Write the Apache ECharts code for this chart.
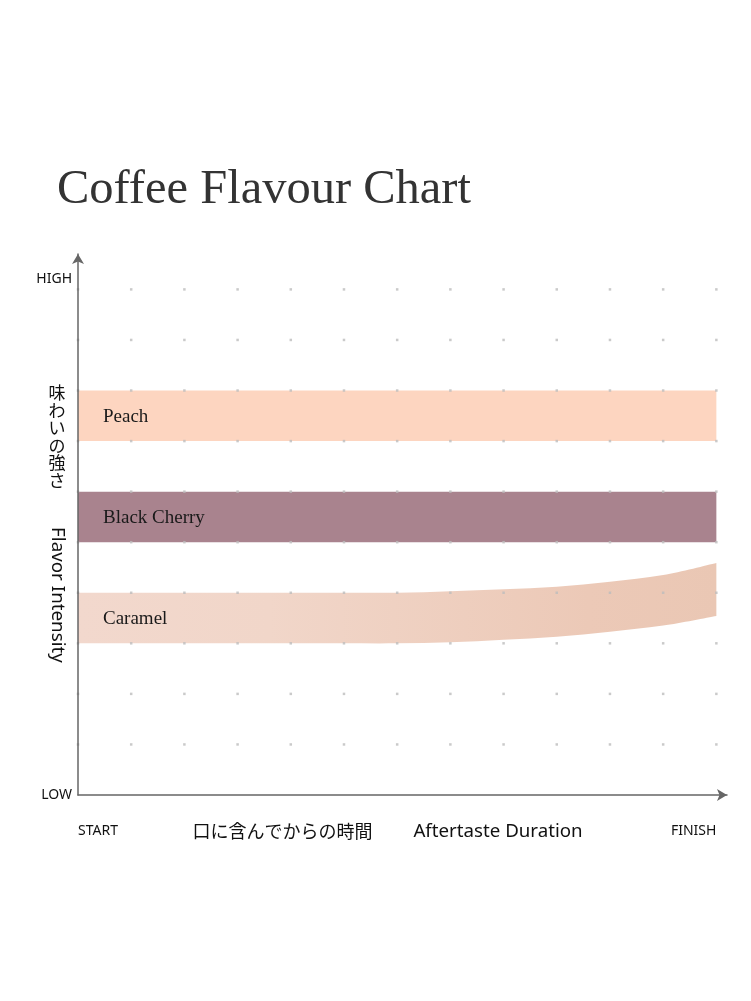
<!DOCTYPE html>
<html>
<head>
<meta charset="utf-8">
<script src="https://cdn.jsdelivr.net/npm/echarts@6/dist/echarts.min.js"></script>
<style>
html, body { margin: 0; padding: 0; background: #fff; }
#chart { width: 751px; height: 1001px; }
</style>
</head>
<body>
<div id="chart"></div>
<script>
// time steps along the aftertaste axis
var xSteps = [0, 1, 2, 3, 4, 5, 6, 7, 8, 9, 10, 11, 12];
var gridRows = [1, 2, 3, 4, 5, 6, 7, 8, 9, 10];

var bandNames = ['Peach', 'Black Cherry', 'Caramel'];
var peachLow = [7, 7, 7, 7, 7, 7, 7, 7, 7, 7, 7, 7, 7];
var peachHigh = [8, 8, 8, 8, 8, 8, 8, 8, 8, 8, 8, 8, 8];
var cherryLow = [5, 5, 5, 5, 5, 5, 5, 5, 5, 5, 5, 5, 5];
var cherryHigh = [6, 6, 6, 6, 6, 6, 6, 6, 6, 6, 6, 6, 6];
var caramelLow = [3, 3, 3, 3, 3, 3, 3, 3.02, 3.07, 3.13, 3.23, 3.35, 3.54];
var caramelHigh = [4, 4, 4, 4, 4, 4, 4, 4.03, 4.07, 4.12, 4.22, 4.35, 4.59];

var yLabelValues = [0, 10.2];
var yLabelTexts = ['LOW', 'HIGH'];
var xLabelValues = [0, 12];
var xLabelTexts = ['START', 'FINISH'];

var myChart = echarts.init(document.getElementById('chart'));

var caramelFill = new echarts.graphic.LinearGradient(0, 0, 1, 0, [
	{offset: 0, color: '#f2d8cd'},
	{offset: 0.3, color: '#f1d6c9'},
	{offset: 0.8, color: '#ecc9b7'},
	{offset: 1, color: '#eac7b4'}
]);

// smooth edge through points (cardinal spline), appended to a path string
function curveTo(pts) {
	var d = '';
	for (var i = 0; i < pts.length - 1; i++) {
		var p0 = pts[i - 1] || pts[i], p1 = pts[i], p2 = pts[i + 1], p3 = pts[i + 2] || p2;
		var c1 = [p1[0] + (p2[0] - p0[0]) / 6, p1[1] + (p2[1] - p0[1]) / 6];
		var c2 = [p2[0] - (p3[0] - p1[0]) / 6, p2[1] - (p3[1] - p1[1]) / 6];
		d += ' C' + c1[0] + ',' + c1[1] + ' ' + c2[0] + ',' + c2[1] + ' ' + p2[0] + ',' + p2[1];
	}
	return d;
}

function band(name, low, high, fill) {
	return {
		type: 'custom', name: name, z: 2, silent: true,
		encode: {x: 0, y: 1},
		data: xSteps.map(function(x, i) { return [x, high[i], low[i]]; }),
		renderItem: function(params, api) {
			if (params.dataIndex !== 0) return null;
			var top = xSteps.map(function(x, i) { return api.coord([x, high[i]]); });
			var bottom = xSteps.map(function(x, i) { return api.coord([x, low[i]]); }).reverse();
			var d = 'M' + top[0][0] + ',' + top[0][1] + curveTo(top) +
				' L' + bottom[0][0] + ',' + bottom[0][1] + curveTo(bottom) + ' Z';
			var mid = api.coord([xSteps[0], (low[0] + high[0]) / 2]);
			return {
				type: 'group',
				children: [
					{type: 'path', shape: {pathData: d}, style: {fill: fill}},
					{
						type: 'text', x: mid[0] + 25, y: mid[1] + 1,
						style: {
							text: name, fill: '#1a1a1a',
							fontFamily: 'Liberation Serif', fontSize: 19,
							align: 'left', verticalAlign: 'middle'
						}
					}
				]
			};
		}
	};
}

var dots = [];
xSteps.forEach(function(x) {
	gridRows.forEach(function(y) { dots.push([x, y]); });
});

var series = [
	band(bandNames[0], peachLow, peachHigh, '#fdd5c0'),
	band(bandNames[1], cherryLow, cherryHigh, '#a9838e'),
	band(bandNames[2], caramelLow, caramelHigh, caramelFill),
	{
		type: 'scatter', data: dots, symbol: 'rect', symbolSize: 2.5,
		itemStyle: {color: '#bdbdbd'}, silent: true, z: 3
	}
];

var option = {
	backgroundColor: '#fff',
	animation: false,
	title: {
		text: 'Coffee Flavour Chart',
		left: 52, top: 161,
		textStyle: {
			fontFamily: 'Liberation Serif', fontWeight: 'normal',
			fontSize: 48.5, color: '#333'
		}
	},
	grid: {left: 78, right: 24, top: 254, bottom: 206},
	xAxis: {
		type: 'value', min: 0, max: 12.2, z: 5,
		splitLine: {show: false},
		axisTick: {show: false},
		axisLine: {
			show: true, symbol: ['none', 'arrow'], symbolSize: [9, 10],
			lineStyle: {color: '#666', width: 1.5}
		},
		axisLabel: {
			customValues: xLabelValues,
			alignMinLabel: 'left', alignMaxLabel: 'right',
			margin: 29, fontFamily: 'Noto Sans', fontSize: 14, color: '#111',
			formatter: function(v) { return xLabelTexts[xLabelValues.indexOf(v)]; }
		},
		name: '{jp|口に含んでからの時間}{gap|}{en|Aftertaste Duration}',
		nameLocation: 'middle', nameGap: 27, nameMoveOverlap: false,
		nameTextStyle: {
			padding: [0, 30, 0, 0],
			rich: {
				jp: {fontFamily: 'Noto Sans CJK JP', fontSize: 18, color: '#111'},
				gap: {width: 41},
				en: {fontFamily: 'Noto Sans', fontSize: 18.7, color: '#111'}
			}
		}
	},
	yAxis: {
		type: 'value', min: 0, max: 10.7, z: 5,
		splitLine: {show: false},
		axisTick: {show: false},
		axisLine: {
			show: true, symbol: ['none', 'arrow'], symbolSize: [9, 10],
			lineStyle: {color: '#666', width: 1.5}
		},
		axisLabel: {
			customValues: yLabelValues,
			margin: 6, fontFamily: 'Noto Sans', fontSize: 14, color: '#111',
			formatter: function(v) { return yLabelTexts[yLabelValues.indexOf(v)]; }
		}
	},
	graphic: [
		{
			type: 'text', x: 57, y: 384, silent: true,
			style: {
				text: '味\nわ\nい\nの\n強\nさ',
				fontFamily: 'Noto Sans CJK JP', fontSize: 17, lineHeight: 17.5,
				fill: '#111', align: 'center', verticalAlign: 'top'
			}
		},
		{
			type: 'text', x: 57, y: 595, rotation: -Math.PI / 2, silent: true,
			style: {
				text: 'Flavor Intensity',
				fontFamily: 'Noto Sans', fontSize: 18.8,
				fill: '#111', align: 'center', verticalAlign: 'middle'
			}
		}
	],
	series: series
};

myChart.setOption(option, true);
</script>
</body>
</html>
